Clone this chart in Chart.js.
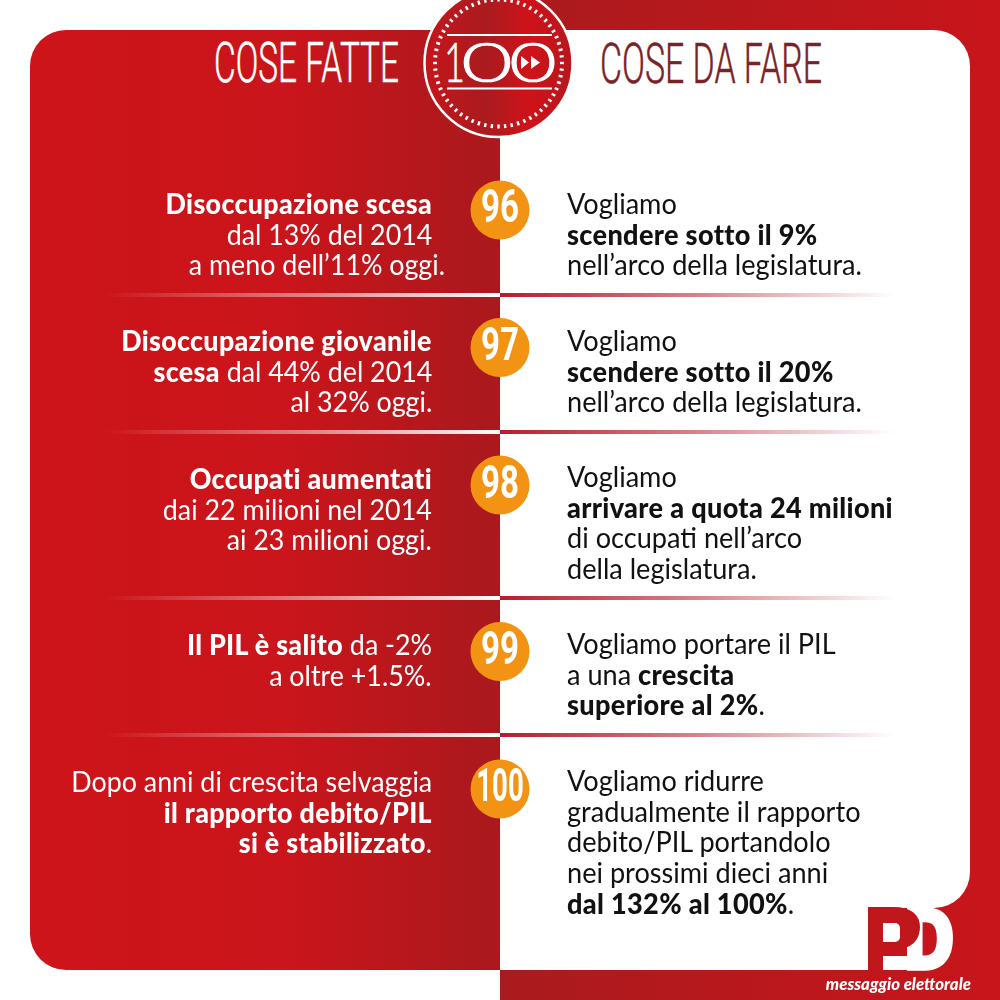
<!DOCTYPE html>
<html lang="it"><head><meta charset="utf-8">
<script src="https://cdn.jsdelivr.net/npm/chart.js@4"></script>
<style>
html,body{margin:0;padding:0;background:#fff}
#stage{position:relative;width:1000px;height:1000px;overflow:hidden;background:#fff;font-family:Lato,sans-serif}
#stage>div,#stage>svg,#stage>canvas{position:absolute}
#texts{left:0;top:0;width:1000px;height:1000px}
.line{white-space:nowrap;height:30.7px;line-height:30.7px;font-size:29px}
.line b{font-weight:900;letter-spacing:.35px}
.lt{color:#fff;text-align:right;transform-origin:100% 0}
.rt{color:#111;text-align:left;transform-origin:0 0}
</style></head><body>
<div id="stage">
<div style="left:30px;top:30px;width:470px;height:940px;border-radius:36px 0 0 36px;background:linear-gradient(90deg,#cd141a 0%,#c9151b 55%,#a9191d 100%)"></div>
<div style="left:500px;top:0;width:500px;height:1000px;background:linear-gradient(90deg,#a91b1e 0%,#c8151b 100%)"></div>
<div style="left:500px;top:30px;width:470px;height:878px;background:#fff;border-radius:0 36px 36px 0"></div>
<div style="left:500px;top:900px;width:368px;height:70px;background:#fff"></div>
<div id="dividers"></div>
<svg id="art" width="1000" height="1000" viewBox="0 0 1000 1000" style="left:0;top:0"></svg>
<canvas id="c" width="1000" height="1000" style="left:0;top:0"></canvas>
<div id="texts"></div>
<div style="left:800px;top:973px;width:171px;text-align:right;color:#fff;font:italic 900 16.8px/22px Lato,sans-serif">messaggio elettorale</div>
</div>
<script>
const badgeNumbers=["96","97","98","99","100"];
const badgeRows=[0,1,2,3.21,4.21];
const badgeColor="#f39314";
const titleLeft="COSE FATTE";
const titleRight="COSE DA FARE";
const logoLetters=["P","D"];
const leftLines=[
 ["**Disoccupazione scesa**","dal 13% del 2014","a meno dell’11% oggi."],
 ["**Disoccupazione giovanile**","**scesa** dal 44% del 2014","al 32% oggi."],
 ["**Occupati aumentati**","dai 22 milioni nel 2014","ai 23 milioni oggi."],
 ["**Il PIL è salito** da -2%","a oltre +1.5%."],
 ["Dopo anni di crescita selvaggia","**il rapporto debito/PIL**","**si è stabilizzato**."]
];
const rightLines=[
 ["Vogliamo","**scendere sotto il 9%**","nell’arco della legislatura."],
 ["Vogliamo","**scendere sotto il 20%**","nell’arco della legislatura."],
 ["Vogliamo","**arrivare a quota 24 milioni**","di occupati nell’arco","della legislatura."],
 ["Vogliamo portare il PIL","a una **crescita**","**superiore al 2%**."],
 ["Vogliamo ridurre","gradualmente il rapporto","debito/PIL portandolo","nei prossimi dieci anni","**dal 132% al 100%**."]
];
// layout only
const leftTops=[188,325,463,629,766];
const rightTops=[188,325,461,628,765];
const dividerYs=[293,430,596,733];
const leftScale=0.925, rightScale=0.935;

const esc=s=>s.replace(/\*\*(.+?)\*\*/g,'<b>$1</b>');
const T=document.getElementById('texts');
function block(lines,tops,cls,x,scale){
 lines.forEach((row,i)=>row.forEach((l,j)=>{
  const d=document.createElement('div');d.className='line '+cls;d.innerHTML=esc(l);
  d.style.position='absolute';d.style.top=(tops[i]+j*30.7)+'px';
  d.style.transform='scaleX('+scale+')';
  if(cls==='lt'){const shift=(i===0&&j===2)?13:0;d.style.right=(1000-x-shift)+'px';}
  else{d.style.left=x+'px';}
  T.appendChild(d);
 }));
}
block(leftLines,leftTops,'lt',432,leftScale);
block(rightLines,rightTops,'rt',567,rightScale);
const D=document.getElementById('dividers');
dividerYs.forEach(y=>{
 D.insertAdjacentHTML('beforeend',`<div style="position:absolute;left:105px;top:${y}px;width:395px;height:4px;background:linear-gradient(90deg,rgba(255,255,255,0),rgba(255,255,255,.55) 60%,#fff)"></div><div style="position:absolute;left:500px;top:${y}px;width:395px;height:4px;background:linear-gradient(90deg,#b91c2c,rgba(185,28,44,.55) 50%,rgba(185,28,44,0))"></div>`);
});
// emblem, titles, logo
let s=`<defs><linearGradient id="g" x1="0" y1="0" x2="1" y2="0"><stop offset="0" stop-color="#c5161c"/><stop offset=".42" stop-color="#a91b1f"/><stop offset=".7" stop-color="#cf1219"/><stop offset="1" stop-color="#b6181d"/></linearGradient></defs>`;
s+=`<text x="214" y="82" font-family="Roboto" font-weight="300" font-size="56" fill="#fff" stroke="#fff" stroke-width=".5" textLength="185" lengthAdjust="spacingAndGlyphs">${titleLeft}</text>`;
s+=`<text x="600" y="83" font-family="Roboto" font-weight="300" font-size="56" fill="#7a2327" stroke="#7a2327" stroke-width=".5" textLength="222" lengthAdjust="spacingAndGlyphs">${titleRight}</text>`;
s+=`<circle cx="498.5" cy="63" r="74" fill="url(#g)" stroke="#fff" stroke-width="2.5"/>`;
for(let i=0;i<60;i++){const a=i*Math.PI/30,c=Math.cos(a),n=Math.sin(a);
 s+=`<line x1="${498.5+61.5*c}" y1="${63+61.5*n}" x2="${498.5+65.5*c}" y2="${63+65.5*n}" stroke="#fff" stroke-width="2.4"/>`;}
s+=`<line x1="447" y1="35" x2="552" y2="35" stroke="#fff" stroke-width="2"/><line x1="447" y1="88.5" x2="552" y2="88.5" stroke="#fff" stroke-width="2"/>`;
[["1",444,21],["0",461,52],["0",509,48]].forEach(([t,x,w])=>{s+=`<text x="${x}" y="82" font-family="Lato" font-weight="300" font-size="56" fill="#fff" stroke="#fff" stroke-width=".7" textLength="${w}" lengthAdjust="spacingAndGlyphs">${t}</text>`;});
s+=`<polygon points="521,56 529,62.5 521,69" fill="#fff"/><polygon points="531,56 540,62.5 531,69" fill="#fff"/>`;
// logo
s+=`<text x="902" y="970" font-family="'Open Sans'" font-weight="800" font-size="86" fill="#fff" stroke="#fff" stroke-width="1.5" textLength="54" lengthAdjust="spacingAndGlyphs">${logoLetters[1]}</text>`;
s+=`<text x="861" y="970" font-family="'Open Sans'" font-weight="800" font-size="86" fill="#c0171c" stroke="#c0171c" stroke-width="1" textLength="62" lengthAdjust="spacingAndGlyphs">${logoLetters[0]}</text>`;
s+=`<rect x="883" y="923" width="17" height="19" rx="5" fill="#fff"/><rect x="883" y="932" width="9" height="10" fill="#fff"/><rect x="883" y="923" width="9" height="9" fill="#fff"/><rect x="883" y="956" width="38" height="14" fill="#fff"/>`;
document.getElementById('art').innerHTML=s;

const badgeText={id:'badgeText',afterDatasetsDraw(ch){
 const m=ch.getDatasetMeta(0),g=ch.ctx;
 m.data.forEach((p,i)=>{const t=badgeNumbers[i];g.save();g.translate(p.x,p.y);g.scale(t.length>2?.6:.72,1);
  g.font="700 46px Roboto";g.fillStyle="#fff";g.textAlign="center";g.textBaseline="middle";g.fillText(t,0,1);g.restore();});
}};
new Chart(document.getElementById('c'),{
 type:'scatter',
 data:{labels:badgeNumbers,datasets:[{data:badgeRows.map(r=>({x:0,y:r})),pointRadius:29.5,pointHoverRadius:29.5,backgroundColor:badgeColor,borderWidth:0}]},
 options:{responsive:false,animation:false,devicePixelRatio:1,layout:{padding:0,autoPadding:false},
  plugins:{legend:{display:false},tooltip:{enabled:false}},
  scales:{x:{type:'linear',display:false,min:-1,max:1},y:{type:'linear',display:false,reverse:true,min:-1.527,max:5.745}}},
 plugins:[badgeText]
});
</script>
</body></html>
